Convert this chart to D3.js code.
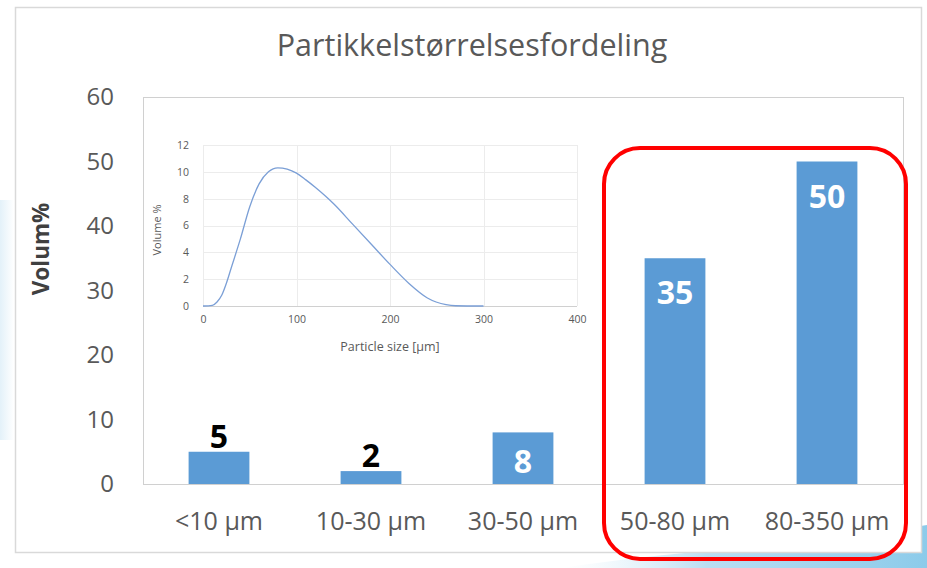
<!DOCTYPE html>
<html>
<head>
<meta charset="utf-8">
<script src="https://cdn.jsdelivr.net/npm/d3@7"></script>
<style>
  html, body { margin: 0; padding: 0; background: #fff; }
  svg { display: block; }
</style>
</head>
<body>
<svg id="chart" width="927" height="568"></svg>
<script>
// Main bar chart: volume share per size class
const categories = ["<10 µm", "10-30 µm", "30-50 µm", "50-80 µm", "80-350 µm"];
const volumes = [5, 2, 8, 35, 50];
const yTicks = [0, 10, 20, 30, 40, 50, 60];

// Inset: particle size distribution curve
const sizes =   [0, 10, 15, 20, 25, 30, 40, 50, 60, 70, 80, 90, 100, 110, 120, 130, 140, 160, 180, 200, 220, 240, 260, 270, 300];
const volPct =  [0, 0.05, 0.3, 0.8, 1.7, 2.8, 5.0, 7.4, 9.1, 10.0, 10.3, 10.2, 9.9, 9.4, 8.85, 8.25, 7.6, 6.1, 4.6, 3.1, 1.7, 0.6, 0.1, 0.02, 0];
const insetXTicks = [0, 100, 200, 300, 400];
const insetYTicks = [0, 2, 4, 6, 8, 10, 12];

const svg = d3.select("#chart");
const font = "'Open Sans', 'Noto Sans', sans-serif";
const grey = "#595959";
const barColor = "#5b9bd5";

// Soft blue background accents
const defs = svg.append("defs");
const g1 = defs.append("linearGradient").attr("id", "swoosh").attr("x1", "0").attr("x2", "1").attr("y1", "0").attr("y2", "0");
g1.append("stop").attr("offset", "0").attr("stop-color", "#e8f4fb").attr("stop-opacity", 0);
g1.append("stop").attr("offset", "0.4").attr("stop-color", "#b9def2");
g1.append("stop").attr("offset", "1").attr("stop-color", "#8ccbea");
svg.append("path")
  .attr("d", "M560,568 C680,550 800,545 927,525 L927,568 Z")
  .attr("fill", "url(#swoosh)");
const g2 = defs.append("linearGradient").attr("id", "edge").attr("x1", "0").attr("x2", "1");
g2.append("stop").attr("offset", "0").attr("stop-color", "#e3f1f9");
g2.append("stop").attr("offset", "1").attr("stop-color", "#e3f1f9").attr("stop-opacity", 0);
svg.append("rect").attr("x", 0).attr("y", 200).attr("width", 14).attr("height", 240).attr("fill", "url(#edge)");

// Chart frame
svg.append("rect")
  .attr("x", 15.5).attr("y", 7.5).attr("width", 906).attr("height", 545)
  .attr("fill", "#fff").attr("stroke", "#d9d9d9").attr("stroke-width", 1.5);

// Title
svg.append("text")
  .attr("x", 472).attr("y", 56)
  .attr("text-anchor", "middle")
  .attr("font-family", font).attr("font-size", 30.5)
  .attr("fill", grey)
  .text("Partikkelstørrelsesfordeling");

// Scales
const plot = { left: 143, right: 903, top: 97, bottom: 484 };
const x = d3.scaleBand().domain(categories).range([plot.left, plot.right]).paddingInner(0.6).paddingOuter(0.3);
const y = d3.scaleLinear().domain([0, 60]).range([plot.bottom, plot.top]);

// Plot area outline
svg.append("rect")
  .attr("x", plot.left + 0.5).attr("y", plot.top + 0.5)
  .attr("width", plot.right - plot.left).attr("height", plot.bottom - plot.top)
  .attr("fill", "none").attr("stroke", "#d0d0d0").attr("stroke-width", 1);

// Y axis (labels only)
const yAxis = svg.append("g")
  .attr("transform", `translate(${plot.left},0)`)
  .call(d3.axisLeft(y).tickValues(yTicks).tickSize(0).tickPadding(29));
yAxis.select(".domain").remove();
yAxis.selectAll("text").attr("font-family", font).attr("font-size", 24).attr("fill", grey);

// X axis (labels only)
const xAxis = svg.append("g")
  .attr("transform", `translate(0,${plot.bottom})`)
  .call(d3.axisBottom(x).tickSize(0).tickPadding(28));
xAxis.select(".domain").attr("stroke", "#d0d0d0");
xAxis.selectAll("text").attr("font-family", font).attr("font-size", 25).attr("fill", grey);

// Y axis title
svg.append("text")
  .attr("transform", "translate(49,249) rotate(-90)")
  .attr("text-anchor", "middle")
  .attr("font-family", font).attr("font-size", 22.5).attr("font-weight", "bold")
  .attr("fill", "#404040")
  .text("Volum%");

// Bars
svg.append("g").selectAll("rect")
  .data(volumes)
  .join("rect")
  .attr("x", (d, i) => x(categories[i]))
  .attr("y", d => y(d))
  .attr("width", x.bandwidth())
  .attr("height", d => y(0) - y(d))
  .attr("fill", barColor);

// Value labels: small bars get a dark label above, tall bars a white label inside
svg.append("g").selectAll("text")
  .data(volumes)
  .join("text")
  .attr("x", (d, i) => x(categories[i]) + x.bandwidth() / 2)
  .attr("y", d => d < 6 ? y(d) - 4 : (d < 10 ? y(d) + 41 : y(d) + 46))
  .attr("text-anchor", "middle")
  .attr("font-family", font).attr("font-size", 32).attr("font-weight", "bold")
  .attr("fill", d => d < 6 ? "#000" : "#fff")
  .text(d => d);

// Highlight frame around the two largest classes
svg.append("rect")
  .attr("x", 604).attr("y", 148)
  .attr("width", 302).attr("height", 411)
  .attr("rx", 36).attr("ry", 36)
  .attr("fill", "none").attr("stroke", "#ff0000").attr("stroke-width", 4);

// Inset distribution chart
const inset = { left: 203, right: 577, top: 145, bottom: 306 };
const ix = d3.scaleLinear().domain([0, 400]).range([inset.left, inset.right]);
const iy = d3.scaleLinear().domain([0, 12]).range([inset.bottom, inset.top]);
const ig = svg.append("g");

ig.append("g").selectAll("line.h")
  .data(insetYTicks).join("line")
  .attr("x1", inset.left).attr("x2", inset.right)
  .attr("y1", d => Math.round(iy(d)) + 0.5).attr("y2", d => Math.round(iy(d)) + 0.5)
  .attr("stroke", d => d === 0 ? "#d0d0d0" : "#ececec").attr("stroke-width", 1);
ig.append("g").selectAll("line.v")
  .data(insetXTicks).join("line")
  .attr("x1", d => Math.round(ix(d)) + 0.5).attr("x2", d => Math.round(ix(d)) + 0.5)
  .attr("y1", inset.top).attr("y2", inset.bottom)
  .attr("stroke", "#ececec").attr("stroke-width", 1);

const ixAxis = ig.append("g")
  .attr("transform", `translate(0,${inset.bottom})`)
  .call(d3.axisBottom(ix).tickValues(insetXTicks).tickSize(0).tickPadding(10));
ixAxis.select(".domain").remove();
ixAxis.selectAll("text").attr("font-family", font).attr("font-size", 10.5).attr("fill", grey);

const iyAxis = ig.append("g")
  .attr("transform", `translate(${inset.left},0)`)
  .call(d3.axisLeft(iy).tickValues(insetYTicks).tickSize(0).tickPadding(14));
iyAxis.select(".domain").remove();
iyAxis.selectAll("text").attr("font-family", font).attr("font-size", 10.5).attr("fill", grey);

ig.append("text")
  .attr("x", 390).attr("y", 351)
  .attr("text-anchor", "middle")
  .attr("font-family", font).attr("font-size", 12.5)
  .attr("fill", grey)
  .text("Particle size [µm]");
ig.append("text")
  .attr("transform", "translate(161,230) rotate(-90)")
  .attr("text-anchor", "middle")
  .attr("font-family", font).attr("font-size", 11)
  .attr("fill", grey)
  .text("Volume %");

ig.append("path")
  .datum(sizes.map((s, i) => [s, volPct[i]]))
  .attr("fill", "none")
  .attr("stroke", "#7b9fd6")
  .attr("stroke-width", 1.3)
  .attr("d", d3.line().x(d => ix(d[0])).y(d => iy(d[1])).curve(d3.curveMonotoneX));
</script>
</body>
</html>
